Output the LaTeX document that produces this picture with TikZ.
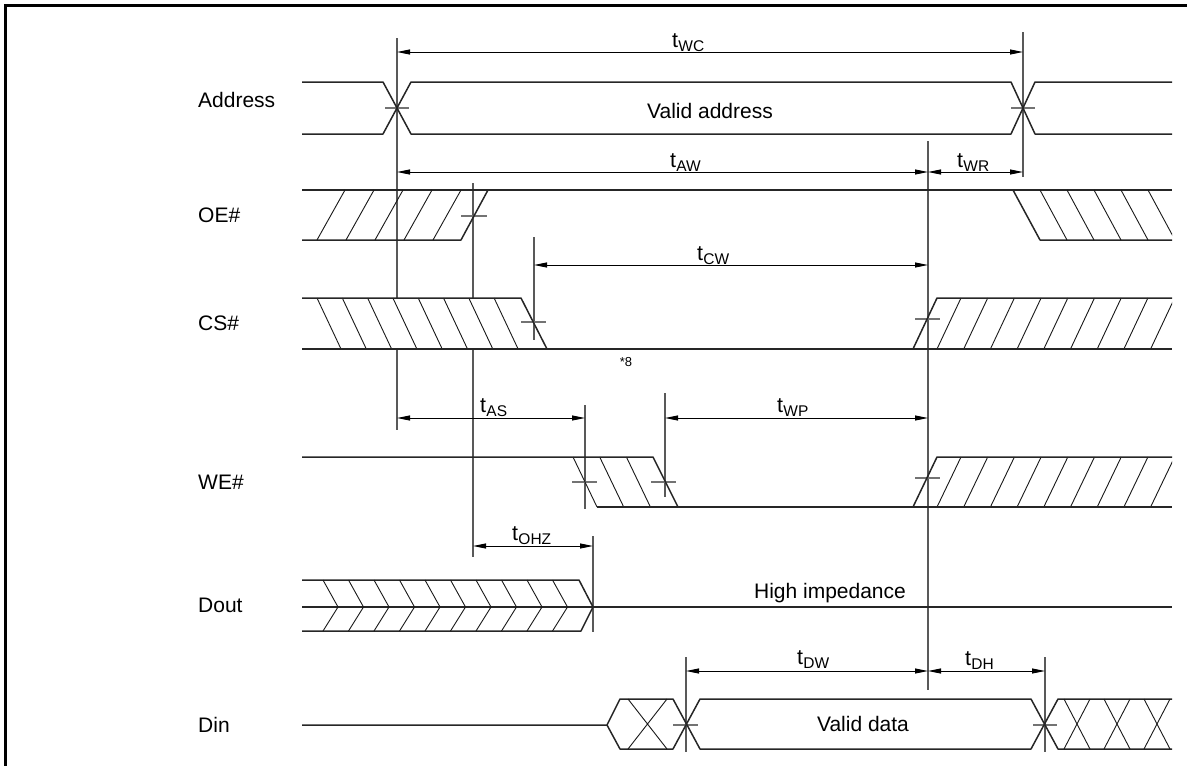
\documentclass[tikz,border=0pt]{standalone}
\usepackage{fontspec}
\setmainfont{Liberation Sans}
\usetikzlibrary{arrows.meta}
\newcommand\tsub[1]{t\kern0.3pt\raisebox{-4pt}{\fontsize{15.5}{16}\selectfont #1}}
\begin{document}
\begin{tikzpicture}[x=1pt,y=-1pt,
  sig/.style={line width=1.5pt, draw=black!85, line join=round},
  hat/.style={line width=0.9pt, draw=black!90},
  refl/.style={line width=1.1pt, draw=black!65},
  tickm/.style={line width=1.1pt, draw=black!55},
  dim/.style={line width=0.9pt, draw=black, {Triangle[length=13pt,width=5pt]}-{Triangle[length=13pt,width=5pt]}},
  lbl/.style={font=\fontsize{21}{24}\selectfont, inner sep=0pt},
  tl/.style={font=\fontsize{21.5}{24}\selectfont, inner sep=0pt, anchor=base west},
  small/.style={font=\fontsize{13}{14}\selectfont, inner sep=0pt},
]
\useasboundingbox (0,0) rectangle (1187,766);
\clip (0,0) rectangle (1187,766);
% frame
\draw[line width=2.5pt] (1200,5.5) -- (5.5,5.5) -- (5.5,780);

% signal names
\node[lbl, anchor=west] (nAddr) at (198,100) {Address};
\node[lbl, anchor=west] (nOE) at (198,215) {OE\#};
\node[lbl, anchor=west] (nCS) at (198,323) {CS\#};
\node[lbl, anchor=west] (nWE) at (198,482) {WE\#};
\node[lbl, anchor=west] (nDout) at (198,605) {Dout};
\node[lbl, anchor=west] (nDin) at (198,725) {Din};

% reference lines
\draw[refl] (397,38) -- (397,298) (397,349) -- (397,430);
\draw[refl] (473,183) -- (473,298) (473,349) -- (473,557);
\draw[refl] (534,237) -- (534,340);
\draw[refl] (928,141) -- (928,690);
\draw[refl] (1023,32) -- (1023,177);
\draw[refl] (585,405) -- (585,509);
\draw[refl] (665,393) -- (665,497);
\draw[refl] (593,536) -- (593,632);
\draw[refl] (686,657) -- (686,752);
\draw[refl] (1045,657) -- (1045,752);

% ticks
\draw[tickm] (385,108) -- (409,108) (1011,108) -- (1035,108);
\draw[tickm] (461,216) -- (487,216);
\draw[tickm] (521,322) -- (546,322) (915,319) -- (940,319);
\draw[tickm] (572,482) -- (597,482) (651,482) -- (676,482) (915,478) -- (940,478);
\draw[tickm] (673,725) -- (698,725) (1033,725) -- (1057,725);

% Address
\draw[sig] (302,82) -- (383,82) -- (411,134) -- (1011,134) -- (1035,82) -- (1172,82);
\draw[sig] (302,134) -- (383,134) -- (411,82) -- (1011,82) -- (1035,134) -- (1172,134);
\node[lbl] (va) at (710,111) {Valid address};

% OE#
\draw[sig] (302,190) -- (1172,190);
\draw[sig] (302,240) -- (461,240) -- (488,190);
\draw[sig] (1013,190) -- (1040,240) -- (1172,240);
\begin{scope}
\clip (302,0) rectangle (1172,766);
\foreach \k in {0,...,4} \draw[hat] ({317+29*\k},240) -- ({345+29*\k},190);
\foreach \k in {0,...,4} \draw[hat] ({1040+27*\k},190) -- ({1067+27*\k},240);
% CS#
\foreach \k in {0,...,7} \draw[hat] ({317+25.3*\k},298) -- ({341+25.3*\k},349);
\foreach \k in {0,...,9} \draw[hat] ({937+26.7*\k},349) -- ({961+26.7*\k},298);
% WE#
\foreach \k in {0,...,2} \draw[hat] ({573+26.7*\k},457) -- ({597+26.7*\k},507);
\foreach \k in {0,...,9} \draw[hat] ({937+26.7*\k},507) -- ({961+26.7*\k},457);
\end{scope}
\draw[sig] (302,298) -- (521,298) -- (547,349);
\draw[sig] (302,349) -- (1172,349);
\draw[sig] (913,349) -- (937,298) -- (1172,298);
\node[small] (n8) at (626,362) {*8};

% WE#
\draw[sig] (302,457) -- (653,457) -- (678,507);
\draw[sig] (597,507) -- (1172,507);
\draw[sig] (913,507) -- (937,457) -- (1172,457);

% Dout
\draw[sig] (302,580) -- (579,580) -- (593,607) -- (581,631) -- (302,631);
\draw[sig] (302,607) -- (1172,607);
\foreach \k in {0,...,9} \draw[hat] ({323+25.5*\k},580) -- ({338+25.5*\k},607) -- ({323+25.5*\k},631);
\node[lbl, anchor=base] (hi) at (830,598) {High impedance};

% Din
\draw[sig] (302,725) -- (607,725) -- (620,699) -- (673,699) -- (700,749) -- (1031,749) -- (1058,699) -- (1172,699);
\draw[sig] (607,725) -- (620,749) -- (673,749) -- (700,699) -- (1031,699) -- (1058,749) -- (1172,749);
\draw[hat] (628,699) -- (667,749) (667,699) -- (628,749);
\foreach \k in {0,1,2} \draw[hat] ({1064+40*\k},699) -- ({1090+40*\k},749) ({1090+40*\k},699) -- ({1064+40*\k},749);
\node[lbl] (vd) at (863,724) {Valid data};

% dimension endpoints
\coordinate (wcA) at (397,52);  \coordinate (wcB) at (1023,52);
\coordinate (awA) at (397,172); \coordinate (awB) at (928,172); \coordinate (wrB) at (1023,172);
\coordinate (cwA) at (534,265); \coordinate (cwB) at (928,265);
\coordinate (asA) at (397,418); \coordinate (asB) at (585,418);
\coordinate (wpA) at (665,418); \coordinate (wpB) at (928,418);
\coordinate (ohA) at (473,546); \coordinate (ohB) at (593,546);
\coordinate (dwA) at (686,671); \coordinate (dwB) at (928,671); \coordinate (dhB) at (1045,671);

\draw[dim] (wcA) -- (wcB);
\draw[dim] (awA) -- (awB);
\draw[dim] (awB) -- (wrB);
\draw[dim] (cwA) -- (cwB);
\draw[dim] (asA) -- (asB);
\draw[dim] (wpA) -- (wpB);
\draw[dim] (ohA) -- (ohB);
\draw[dim] (dwA) -- (dwB);
\draw[dim] (dwB) -- (dhB);

\node[tl] (twc) at (672,47) {\tsub{WC}};
\node[tl] (taw) at (670,167) {\tsub{AW}};
\node[tl] (twr) at (957,167) {\tsub{WR}};
\node[tl] (tcw) at (697,260) {\tsub{CW}};
\node[tl] (tas) at (480,412) {\tsub{AS}};
\node[tl] (twp) at (777,412) {\tsub{WP}};
\node[tl] (toh) at (512,540) {\tsub{OHZ}};
\node[tl] (tdw) at (797,664) {\tsub{DW}};
\node[tl] (tdh) at (965,665) {\tsub{DH}};
\end{tikzpicture}
\end{document}
